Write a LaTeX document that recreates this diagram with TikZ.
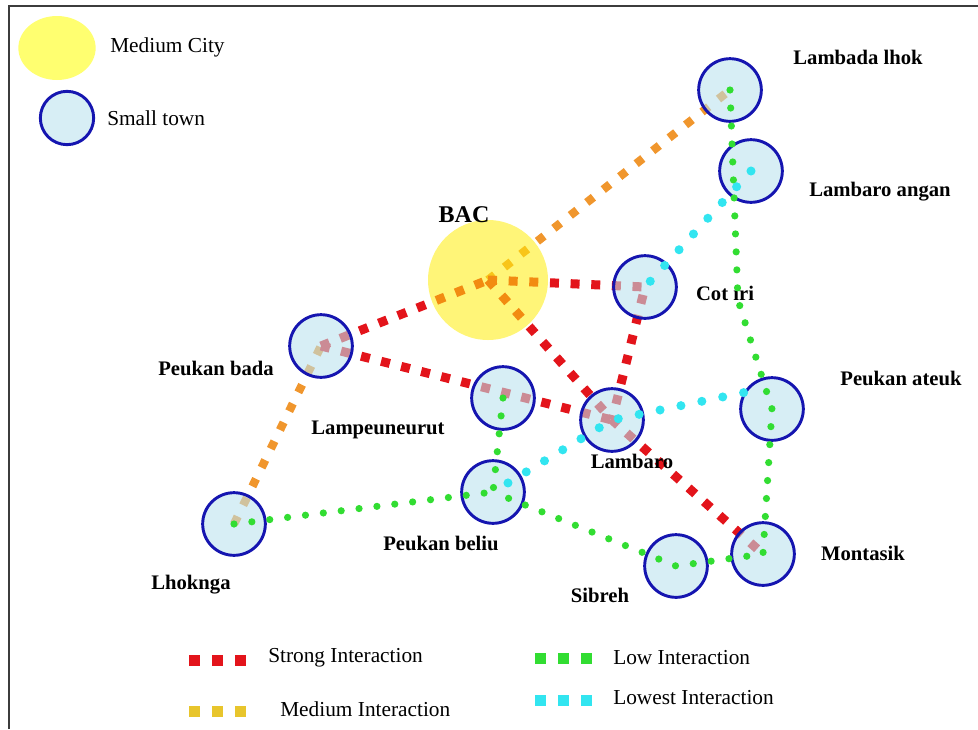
\documentclass[tikz,border=0pt]{standalone}
\usepackage{fontspec}
\setmainfont{Liberation Serif}
\usetikzlibrary{shapes.geometric,backgrounds}
\definecolor{strongred}{RGB}{227,20,27}
\definecolor{mediumorange}{RGB}{240,150,45}
\definecolor{mediumkey}{RGB}{232,197,44}
\definecolor{lowgreen}{RGB}{50,221,50}
\definecolor{lowestcyan}{RGB}{50,229,240}
\definecolor{cityyellow}{RGB}{255,237,10}
\definecolor{keyyellow}{RGB}{255,255,112}
\definecolor{townfill}{RGB}{186,226,238}
\definecolor{townblue}{RGB}{21,21,176}
\definecolor{framegray}{RGB}{60,60,60}

\begin{document}
\begin{tikzpicture}[x=0.75pt,y=-0.75pt,
  town/.style={circle,draw=townblue,line width=2.2pt,fill=townfill,
    fill opacity=0.58,minimum size=47pt,inner sep=0pt},
  city/.style={circle,fill=cityyellow,fill opacity=0.55,minimum size=90pt,
    inner sep=0pt},
  place/.style={font=\fontsize{15.5}{18}\selectfont\bfseries,inner sep=0pt},
  keytext/.style={font=\fontsize{16}{19}\selectfont,anchor=west,inner sep=0pt},
  strong/.style={strongred,line width=6.75pt,dash pattern=on 6.75pt off 8.75pt},
  medium/.style={mediumorange,line width=6.3pt,dash pattern=on 6.3pt off 9.4pt},
  low/.style={lowgreen,line width=5.4pt,line cap=round,
    dash pattern=on 0pt off 13.5pt},
  lowest/.style={lowestcyan,line width=6.8pt,line cap=round,
    dash pattern=on 0pt off 16pt}]
  \useasboundingbox (0,0) rectangle (978,729);
  \draw[framegray,line width=1.5pt] (9,729) -- (9,6) -- (978,6);

  \node[ellipse,fill=keyyellow,minimum width=58pt,minimum height=48pt,
    inner sep=0pt] (citykey) at (57,48) {};
  \node[keytext] (citytext) at (110,47) {Medium City};
  \node[town,minimum size=40pt] (townkey) at (67,118) {};
  \node[keytext] (towntext) at (107,118) {Small town};

  \node[city] (bac) at (488,280) {};
  \node[town] (lambada) at (730,90) {};
  \node[town] (angan) at (751,171) {};
  \node[town] (cotiri) at (645,287) {};
  \node[town] (pbada) at (321,346) {};
  \node[town] (lampeuneurut) at (503,398) {};
  \node[town] (lambaro) at (612,420) {};
  \node[town] (ateuk) at (772,409) {};
  \node[town] (beliu) at (493,492) {};
  \node[town] (lhoknga) at (234,524) {};
  \node[town] (sibreh) at (676,566) {};
  \node[town] (montasik) at (763,554) {};
  \coordinate (bend) at (738,300);

  \node[place,font=\fontsize{18}{21}\selectfont\bfseries] (baclabel) at (464,215) {BAC};
  \node[place] (lambadalabel) at (858,57) {Lambada lhok};
  \node[place] (anganlabel) at (880,192) {Lambaro angan};
  \node[place] (cotirilabel) at (725,293) {Cot iri};
  \node[place] (pbadalabel) at (216,368) {Peukan bada};
  \node[place] (lampeuneurutlabel) at (378,430) {Lampeuneurut};
  \node[place] (lambarolabel) at (632,461) {Lambaro};
  \node[place] (ateuklabel) at (901,378) {Peukan ateuk};
  \node[place] (beliulabel) at (441,543) {Peukan beliu};
  \node[place] (lhokngalabel) at (191,585) {Lhoknga};
  \node[place] (sibrehlabel) at (600,595) {Sibreh};
  \node[place] (montasiklabel) at (863,553) {Montasik};

  \begin{scope}[on background layer]
    \draw[medium] (lhoknga.center) -- (pbada.center);
    \draw[medium] (bac.center) -- (lambada.center);
    \draw[strong] (pbada.center) -- (bac.center);
    \draw[strong] (bac.center) -- (cotiri.center) -- (lambaro.center);
    \draw[strong] (bac.center) -- (lambaro.center) -- (montasik.center);
    \draw[strong] (pbada.center) -- (lambaro.center);
  \end{scope}

  \draw[low] (lambada.center) -- (bend) -- (ateuk.center) -- (montasik.center)
    -- (sibreh.center) -- (beliu.center);
  \draw[low] (lhoknga.center) -- (beliu.center);
  \draw[low] (lampeuneurut.center) -- (beliu.center);
  \draw[lowest] (angan.center) -- (cotiri.center);
  \draw[lowest] (ateuk.150) -- (lambaro.center) -- (beliu.center);

  \foreach \c/\x/\y in {strongred/189/660,mediumkey/189/711,lowgreen/535/658,lowestcyan/535/700}
  \draw[\c,line width=8.25pt,dash pattern=on 8.25pt off 9pt] (\x,\y) -- ++(57,0);
  \node[keytext] (strongtext) at (268,658) {Strong Interaction};
  \node[keytext] (mediumtext) at (280,709) {Medium Interaction};
  \node[keytext] (lowtext) at (613,658) {Low Interaction};
  \node[keytext] (lowesttext) at (613,698) {Lowest Interaction};
\end{tikzpicture}
\end{document}
